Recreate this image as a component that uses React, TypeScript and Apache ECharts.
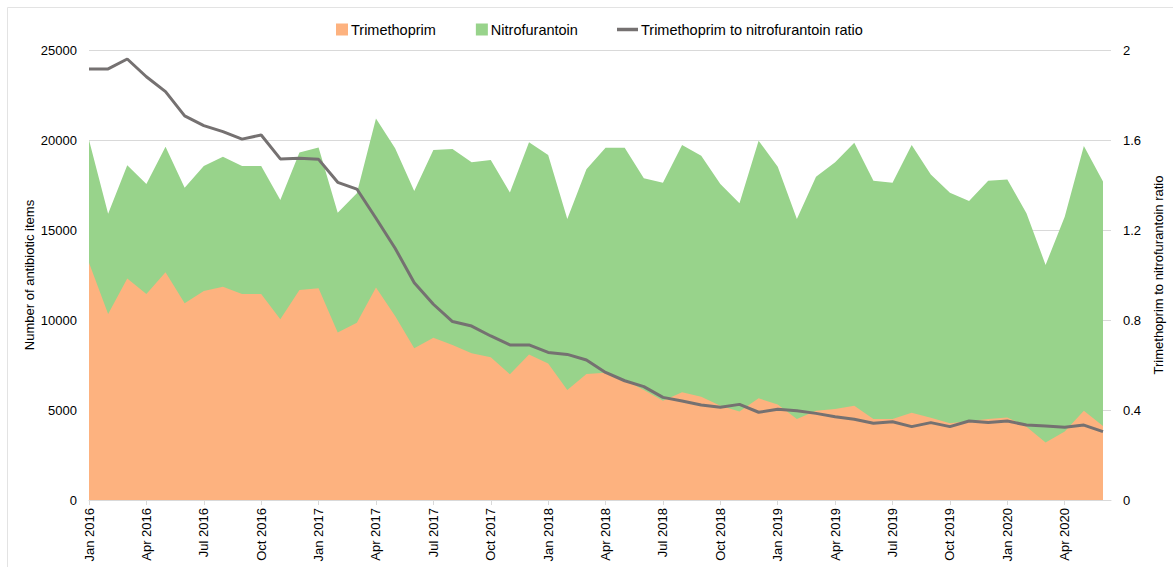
import React, { useEffect, useRef } from "react";
import * as echarts from "echarts";

const months: string[] = (() => {
  const names = ["Jan", "Feb", "Mar", "Apr", "May", "Jun", "Jul", "Aug", "Sep", "Oct", "Nov", "Dec"];
  const out: string[] = [];
  for (let y = 2016; y <= 2020; y++) {
    for (let m = 0; m < 12; m++) {
      if (y === 2020 && m > 5) break;
      out.push(`${names[m]} ${y}`);
    }
  }
  return out;
})();

const trimethoprim: number[] = [
  13180, 10330, 12310, 11440, 12650, 10930, 11610, 11850, 11440, 11440, 10040, 11670,
  11760, 9300, 9850, 11810, 10220, 8430, 9020, 8610, 8150, 7930, 6980, 8090,
  7590, 6110, 7000, 7070, 6670, 6110, 5520, 5980, 5740, 5240, 4910, 5650,
  5310, 4500, 4960, 5060, 5240, 4500, 4500, 4850, 4570, 4260, 4390, 4500,
  4590, 4070, 3190, 3800, 4960, 4110,
];

const nitrofurantoin: number[] = [
  6820, 5570, 6290, 6120, 6980, 6420, 6950, 7220, 7120, 7120, 6630, 7630,
  7830, 6660, 7190, 9390, 9320, 8740, 10420, 10890, 10610, 10960, 10110, 11780,
  11580, 9500, 11370, 12500, 12900, 11760, 12110, 13740, 13390, 12320, 11570, 14310,
  13210, 11110, 13000, 13700, 14610, 13240, 13130, 14870, 13520, 12810, 12220, 13240,
  13220, 11860, 9870, 11940, 14710, 13580,
];

const ratio: number[] = [
  1.916, 1.916, 1.96, 1.881, 1.815, 1.707, 1.664, 1.637, 1.604, 1.622, 1.516, 1.519,
  1.514, 1.412, 1.382, 1.252, 1.119, 0.966, 0.87, 0.793, 0.773, 0.729, 0.689, 0.689,
  0.656, 0.647, 0.622, 0.567, 0.53, 0.504, 0.456, 0.44, 0.422, 0.412, 0.425, 0.39,
  0.403, 0.397, 0.385, 0.37, 0.359, 0.341, 0.348, 0.326, 0.344, 0.326, 0.351, 0.344,
  0.351, 0.333, 0.329, 0.323, 0.333, 0.304,
];

const leftTicks = { min: 0, max: 25000, interval: 5000 };
const rightTicks = { min: 0, max: 2, interval: 0.4 };

const NAME_TRI = "Trimethoprim";
const NAME_NIT = "Nitrofurantoin";
const NAME_RATIO = "Trimethoprim to nitrofurantoin ratio";

const FONT = "Arial, 'Liberation Sans', sans-serif";
const ORANGE = "#FDB27F";
const GREEN = "#98D38B";
const LINE = "#757171";
const AXIS_GREY = "#D9D9D9";

export default function App() {
  const ref = useRef<HTMLDivElement>(null);
  useEffect(() => {
    if (!ref.current) return;
    const chart = echarts.init(ref.current, undefined, { renderer: "svg" });
    // stacked top of the nitrofurantoin band = trimethoprim + nitrofurantoin
    const stackedTop = trimethoprim.map((v, i) => [i, v + nitrofurantoin[i]]);
    const pts = (arr: number[]) => arr.map((v, i) => [i, v]);
    const legendText = { fontSize: 14.5, color: "#000", fontFamily: FONT };
    chart.setOption({
      animation: false,
      textStyle: { fontFamily: FONT },
      graphic: [
        { type: "line", shape: { x1: 7.5, y1: 7.5, x2: 1173, y2: 7.5 }, style: { stroke: "#E3E3E3", lineWidth: 1 } },
        { type: "line", shape: { x1: 7.5, y1: 7.5, x2: 7.5, y2: 567 }, style: { stroke: "#E3E3E3", lineWidth: 1 } },
      ],
      legend: [
        {
          data: [
            { name: NAME_TRI, icon: "rect" },
            { name: NAME_NIT, icon: "rect" },
          ],
          left: 331,
          top: 17,
          itemWidth: 12,
          itemHeight: 12,
          itemGap: 40,
          textStyle: { ...legendText, padding: [0, 0, 0, -2] },
        },
        {
          data: [{ name: NAME_RATIO, icon: "path://M0,0h21v3.5h-21z" }],
          left: 612,
          top: 17,
          itemWidth: 21,
          itemHeight: 12,
          textStyle: { ...legendText, padding: [0, 0, 0, -2] },
        },
      ],
      grid: { left: 89, right: 58, top: 50, bottom: 67, containLabel: false },
      xAxis: {
        type: "value",
        min: 0,
        max: 53.42,
        interval: 3,
        axisLine: { show: true, lineStyle: { color: AXIS_GREY } },
        axisTick: { show: true, length: 5, lineStyle: { color: AXIS_GREY } },
        splitLine: { show: false },
        axisLabel: {
          rotate: 90,
          fontSize: 13,
          color: "#000",
          fontFamily: FONT,
          showMaxLabel: false,
          margin: 8,
          formatter: (v: number) => (Number.isInteger(v) && months[v] ? months[v] : ""),
        },
      },
      yAxis: [
        {
          type: "value",
          ...leftTicks,
          name: "Number of antibiotic items",
          nameLocation: "middle",
          nameGap: 53,
          nameMoveOverlap: false,
          nameTextStyle: { fontSize: 13, color: "#000", fontFamily: FONT },
          axisLine: { show: false },
          axisTick: { show: false },
          splitLine: { show: true, lineStyle: { color: AXIS_GREY } },
          axisLabel: {
            fontSize: 13,
            color: "#000",
            fontFamily: FONT,
            margin: 12,
            formatter: (v: number) => String(v),
          },
        },
        {
          type: "value",
          ...rightTicks,
          name: NAME_RATIO,
          nameLocation: "middle",
          nameGap: 36,
          nameTextStyle: { fontSize: 13, color: "#000", fontFamily: FONT },
          axisLine: { show: false },
          axisTick: { show: false },
          splitLine: { show: false },
          axisLabel: {
            fontSize: 13,
            color: "#000",
            fontFamily: FONT,
            margin: 12,
            formatter: (v: number) => String(Math.round(v * 10) / 10),
          },
        },
      ],
      series: [
        {
          name: NAME_NIT,
          type: "line",
          data: stackedTop,
          symbol: "none",
          lineStyle: { width: 0 },
          areaStyle: { color: GREEN, opacity: 1 },
          itemStyle: { color: GREEN },
          yAxisIndex: 0,
          z: 2,
        },
        {
          name: NAME_TRI,
          type: "line",
          data: pts(trimethoprim),
          symbol: "none",
          lineStyle: { width: 0 },
          areaStyle: { color: ORANGE, opacity: 1 },
          itemStyle: { color: ORANGE },
          yAxisIndex: 0,
          z: 3,
        },
        {
          name: NAME_RATIO,
          type: "line",
          data: pts(ratio),
          symbol: "none",
          showSymbol: false,
          yAxisIndex: 1,
          lineStyle: { color: LINE, width: 3 },
          itemStyle: { color: LINE },
          z: 5,
        },
      ],
    });
    return () => chart.dispose();
  }, []);
  return (
    <div
      ref={ref}
      style={{ position: "fixed", left: 0, top: 0, width: 1173, height: 567, background: "#fff" }}
    />
  );
}
